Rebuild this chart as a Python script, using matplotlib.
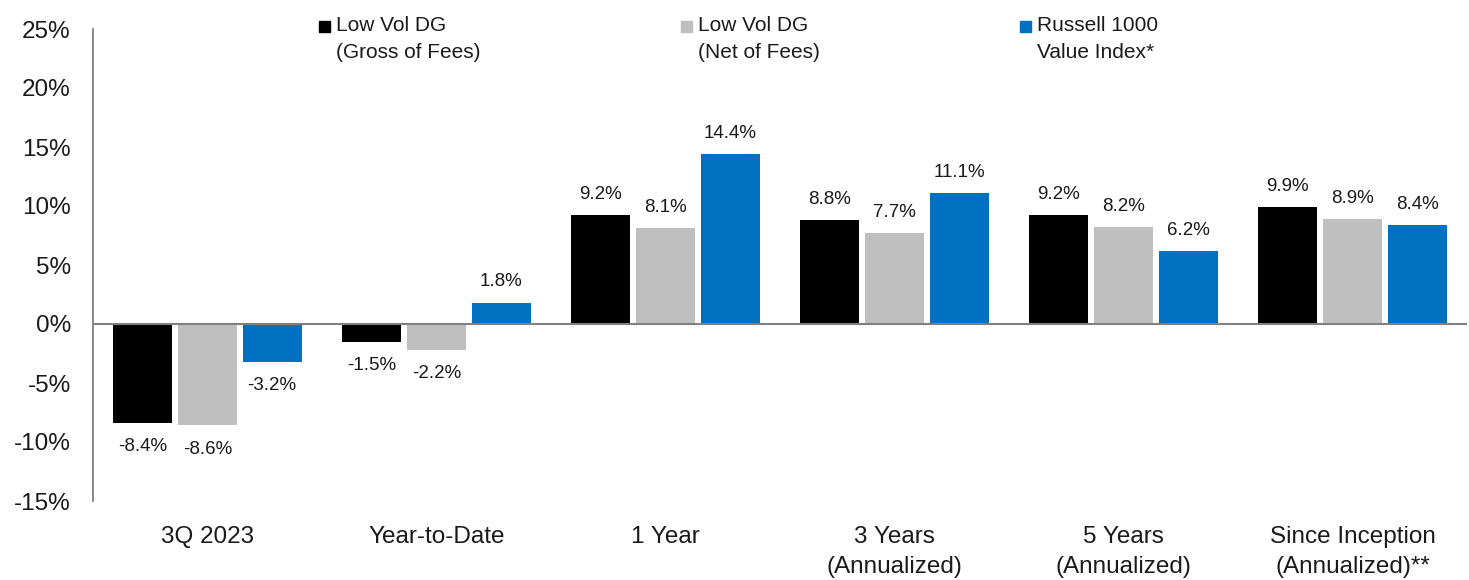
import matplotlib
matplotlib.use("Agg")
import matplotlib.pyplot as plt
from matplotlib.patches import Rectangle
import numpy as np

plt.rcParams['font.family'] = ['Liberation Sans', 'DejaVu Sans']

categories = ["3Q 2023", "Year-to-Date", "1 Year", "3 Years\n(Annualized)",
              "5 Years\n(Annualized)", "Since Inception\n(Annualized)**"]
series_names = ["Low Vol DG\n(Gross of Fees)", "Low Vol DG\n(Net of Fees)",
                "Russell 1000\nValue Index*"]
gross = [-8.4, -1.5, 9.2, 8.8, 9.2, 9.9]
net = [-8.6, -2.2, 8.1, 7.7, 8.2, 8.9]
russell = [-3.2, 1.8, 14.4, 11.1, 6.2, 8.4]
yticks = [-15, -10, -5, 0, 5, 10, 15, 20, 25]

colors = ["#000000", "#BFBFBF", "#0070C0"]
series = [gross, net, russell]

fig = plt.figure(figsize=(14.69, 5.80), dpi=100)
ax = fig.add_axes([93/1469, 1 - 501/580, (1467 - 93)/1469, (501 - 29)/580])

x = np.arange(len(categories))
width = 0.258
offset = 0.282
for i, (vals, col) in enumerate(zip(series, colors)):
    pos = x + (i - 1) * offset
    ax.bar(pos, vals, width=width, color=col, zorder=2)
    for px, v in zip(pos, vals):
        dy = 15 if v >= 0 else -17
        ax.annotate(f"{v:.1f}%", (px, v), xytext=(0, dy), textcoords="offset points",
                    ha="center", va="center", fontsize=13.5, color="#1a1a1a")

ax.set_xlim(-0.5, len(categories) - 0.5)
ax.set_ylim(-15, 25)
ax.set_yticks(yticks)
ax.set_yticklabels([f"{t}%" for t in yticks])
ax.set_xticks(x)
ax.set_xticklabels(categories, linespacing=1.5)
ax.tick_params(axis="both", length=0, labelsize=17.5, colors="#1a1a1a")
ax.tick_params(axis="y", pad=16)
ax.tick_params(axis="x", pad=18)
for s in ["top", "right", "bottom"]:
    ax.spines[s].set_visible(False)
ax.spines["left"].set_color("#808080")
ax.spines["left"].set_linewidth(1.3)
ax.axhline(0, color="#808080", linewidth=1.5, zorder=3)

# legend (manual, top)
sq_x = [319, 681, 1020]
for sx, name, col in zip(sq_x, series_names, colors):
    fig.patches.append(Rectangle((sx/1469, 1 - 32/580), 11/1469, 11/580,
                                 transform=fig.transFigure, color=col, figure=fig))
    fig.text((sx + 17)/1469, 1 - 16/580, name, ha="left", va="top",
             fontsize=15, color="#1a1a1a", linespacing=1.5)

fig.savefig("out.png", dpi=100)
